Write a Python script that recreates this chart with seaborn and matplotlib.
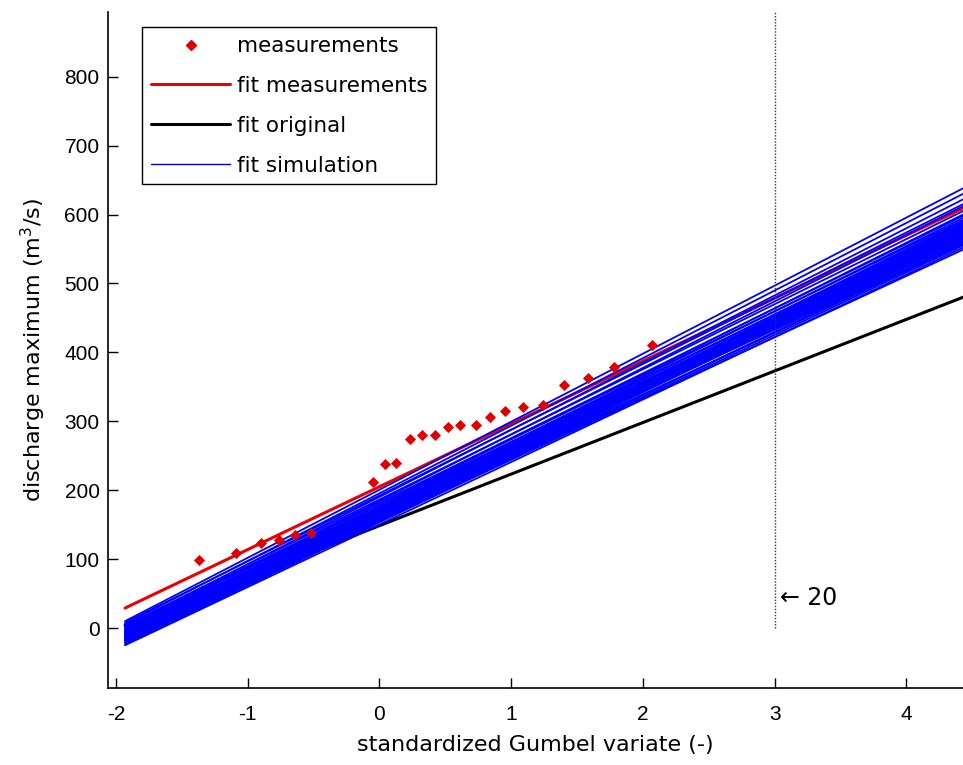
import numpy as np
import pandas as pd
import matplotlib
matplotlib.use("Agg")
import matplotlib.pyplot as plt
from matplotlib.lines import Line2D
import seaborn as sns

# ---------------- data ----------------
meas_x = [-1.37, -1.09, -0.90, -0.76, -0.64, -0.52, -0.05, 0.04, 0.13, 0.23,
          0.32, 0.42, 0.52, 0.61, 0.73, 0.84, 0.95, 1.09, 1.24, 1.40,
          1.58, 1.78, 2.07]
meas_y = [99, 109, 123, 128, 135, 138, 212, 238, 240, 274,
          280, 280, 292, 295, 295, 306, 315, 321, 324, 353,
          363, 379, 411]

line_x = [-1.93, 4.43]                 # x range of the fitted lines
fit_meas_y = [29, 609]                 # fit measurements at both ends
fit_orig_y = [4, 480]                  # fit original at both ends

# fit simulation: value at left end and at right end for each run
sim_left = [10, 6, 2, 8, -2, 4, -5, 0, -8, 3, -10, -4, -12, 1, -6, -14, -3, -9,
            -16, -1, -11, -7, -18, -13, -5, -20, -15, -2, -10, -22, -17, -8,
            -12, -24, -19, -14, -21, -25, -6, -16]
sim_right = [638, 630, 622, 615, 612, 605, 600, 598, 595, 592, 590, 588, 586,
             585, 583, 582, 580, 579, 578, 577, 576, 575, 574, 573, 572, 571,
             570, 569, 568, 567, 566, 565, 563, 561, 559, 557, 555, 552, 560, 549]

return_x = 3.0
return_label = "\u2190 20"

x_ticks = [-2, -1, 0, 1, 2, 3, 4]
y_ticks = [0, 100, 200, 300, 400, 500, 600, 700, 800]

# ---------------- style ----------------
sns.set_style("ticks")
plt.rcParams["font.family"] = ["Liberation Sans", "DejaVu Sans"]
plt.rcParams["text.color"] = "black"
plt.rcParams["axes.labelcolor"] = "black"
plt.rcParams["xtick.color"] = "black"
plt.rcParams["ytick.color"] = "black"
TEXT_FONT = ["DejaVu Sans"]

fig = plt.figure(figsize=(9.63, 7.65), dpi=100)
ax = fig.add_axes([0.1121, 0.1007, 0.8879, 0.8837])

# tables for seaborn
sim_rows = []
for i, (yl, yr) in enumerate(zip(sim_left, sim_right)):
    sim_rows.append({"run": i, "x": line_x[0], "y": yl})
    sim_rows.append({"run": i, "x": line_x[1], "y": yr})
df_sim = pd.DataFrame(sim_rows)
df_fm = pd.DataFrame({"x": line_x, "y": fit_meas_y})
df_fo = pd.DataFrame({"x": line_x, "y": fit_orig_y})
df_meas = pd.DataFrame({"x": meas_x, "y": meas_y})

sns.lineplot(data=df_fo, x="x", y="y", color="black", linewidth=2.2, ax=ax)
sns.lineplot(data=df_fm, x="x", y="y", color="#ee0000", linewidth=2.2, ax=ax)
sns.lineplot(data=df_sim, x="x", y="y", units="run", estimator=None,
             color="#0000ff", linewidth=1.3, ax=ax)
sns.scatterplot(data=df_meas, x="x", y="y", marker="D", color="#e00000",
                s=32, edgecolor="#e00000", linewidth=0, ax=ax, zorder=5)

# return period marker
ax.plot([return_x, return_x], [0, 900], linestyle=(0, (1, 1.2)),
        color="#333355", linewidth=1.0)
ax.text(return_x + 0.04, 44, return_label, fontsize=17, va="center", ha="left",
        family=TEXT_FONT, color="black")

ax.set_xlim(-2.06, 4.43)
ax.set_ylim(-87, 894)
ax.set_xticks(x_ticks)
ax.set_yticks(y_ticks)
ax.set_xticklabels([str(v) for v in x_ticks])
ax.set_yticklabels([str(v) for v in y_ticks])
ax.tick_params(direction="in", length=7, width=1, labelsize=15, colors="black")
ax.tick_params(axis="x", pad=12)
ax.tick_params(axis="y", pad=6)
for s in ["top", "right"]:
    ax.spines[s].set_visible(False)
for s in ["left", "bottom"]:
    ax.spines[s].set_linewidth(1.2)
    ax.spines[s].set_color("black")

ax.set_xlabel("standardized Gumbel variate (-)", fontsize=16, labelpad=8,
              family=TEXT_FONT, color="black")
ax.set_ylabel("discharge maximum (m$^3$/s)", fontsize=16, labelpad=12,
              family=TEXT_FONT, color="black")

handles = [
    Line2D([], [], linestyle="none", marker="D", color="#e00000", markersize=5),
    Line2D([], [], color="#ee0000", linewidth=2.2),
    Line2D([], [], color="black", linewidth=2.2),
    Line2D([], [], color="#0000cc", linewidth=1.0),
]
labels = ["measurements", "fit measurements", "fit original", "fit simulation"]
leg = ax.legend(handles, labels, loc="upper left", bbox_to_anchor=(0.04, 0.977),
                borderaxespad=0, frameon=True, fancybox=False, framealpha=1,
                edgecolor="black", handlelength=3.7, handletextpad=0.3,
                labelspacing=0.92, borderpad=0.4, numpoints=1,
                prop={"family": TEXT_FONT, "size": 15.5})
leg.get_frame().set_linewidth(1.0)
for t in leg.get_texts():
    t.set_color("black")

fig.savefig("out.png", dpi=100)
